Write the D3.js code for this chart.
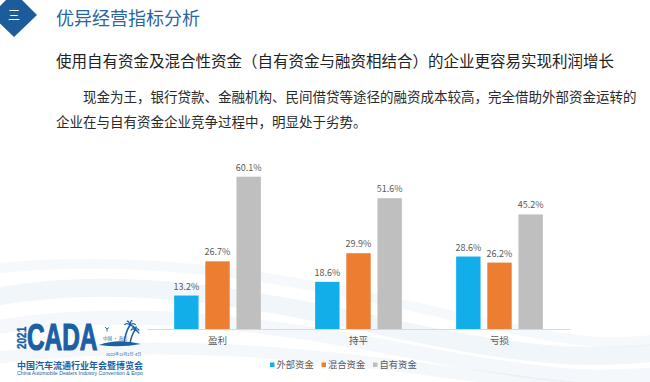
<!DOCTYPE html>
<html>
<head>
<meta charset="utf-8">
<script src="https://cdn.jsdelivr.net/npm/d3@7"></script>
<style>
  html, body { margin: 0; padding: 0; background: #fff; }
  svg { display: block; font-family: "Noto Sans CJK SC", "Noto Sans", sans-serif; }
</style>
</head>
<body>
<svg id="chart" width="650" height="382"></svg>
<script>
// ---- data ----
const categories = ["盈利", "持平", "亏损"];
const seriesNames = ["外部资金", "混合资金", "自有资金"];
const externalFunds = [13.2, 18.6, 28.6];
const mixedFunds = [26.7, 29.9, 26.2];
const ownFunds = [60.1, 51.6, 45.2];
const seriesColors = ["#12aeea", "#ed7d31", "#bfbfbf"];

const titleText = "优异经营指标分析";
const subtitleText = "使用自有资金及混合性资金（自有资金与融资相结合）的企业更容易实现利润增长";
const paraLine1 = "现金为王，银行贷款、金融机构、民间借贷等途径的融资成本较高，完全借助外部资金运转的";
const paraLine2 = "企业在与自有资金企业竞争过程中，明显处于劣势。";

const seriesValues = [externalFunds, mixedFunds, ownFunds];
const rows = categories.map((c, i) => ({
  category: c,
  values: seriesNames.map((s, j) => ({ series: s, value: seriesValues[j][i], color: seriesColors[j] }))
}));

const svg = d3.select("#chart");

// ---- background swooshes ----
const bg = svg.append("g");
const swooshes = [
  { d: "M-20,300 C120,270 260,300 400,330 S600,360 680,350", w: 18, o: 0.12 },
  { d: "M-20,330 C140,300 300,330 430,355 S610,380 680,372", w: 14, o: 0.10 },
  { d: "M-20,270 C150,250 300,280 450,315 S620,345 680,335", w: 10, o: 0.08 },
  { d: "M-20,360 C160,335 320,355 470,375 S630,392 680,388", w: 12, o: 0.09 }
];
swooshes.forEach(s => {
  bg.append("path").attr("d", s.d).attr("fill", "none")
    .attr("stroke", "#8fb4d6").attr("stroke-width", s.w).attr("opacity", s.o);
});

// ---- header ----
svg.append("path")
  .attr("d", "M14,-8 L37,15 L14,37 L-9,15 Z")
  .attr("fill", "#1d5c9b");
svg.append("text").attr("x", 14).attr("y", 20).attr("text-anchor", "middle")
  .attr("fill", "#fff").attr("font-size", 12).text("三");
svg.append("text").attr("x", 56).attr("y", 24.5)
  .attr("fill", "#2866a3").attr("font-size", 18).text(titleText);

svg.append("text").attr("x", 56).attr("y", 67)
  .attr("fill", "#222").attr("font-size", 15.5).text(subtitleText);
svg.append("text").attr("x", 83).attr("y", 101.5)
  .attr("fill", "#2a2a2a").attr("font-size", 13.5).text(paraLine1);
svg.append("text").attr("x", 56).attr("y", 126.5)
  .attr("fill", "#2a2a2a").attr("font-size", 13.5).text(paraLine2);

// ---- chart ----
const baseY = 329;
const x0 = d3.scaleBand().domain(categories).range([147, 570])
  .paddingInner(0.385).paddingOuter(0.1925);
const x1 = d3.scaleBand().domain(seriesNames).range([0, x0.bandwidth()])
  .paddingInner(0.217).paddingOuter(0);
const y = d3.scaleLinear().domain([0, 70]).range([baseY, baseY - 177.4]);

const groups = svg.append("g").selectAll("g").data(rows).join("g")
  .attr("transform", d => `translate(${x0(d.category)},0)`);

groups.selectAll("rect").data(d => d.values).join("rect")
  .attr("x", d => x1(d.series))
  .attr("y", d => y(d.value))
  .attr("width", x1.bandwidth())
  .attr("height", d => y(0) - y(d.value))
  .attr("fill", d => d.color);

groups.selectAll("text").data(d => d.values).join("text")
  .attr("x", d => x1(d.series) + x1.bandwidth() / 2)
  .attr("y", d => y(d.value) - 6)
  .attr("text-anchor", "middle")
  .attr("font-size", 9)
  .attr("fill", "#595959")
  .text(d => d3.format(".1f")(d.value) + "%");

const axis = svg.append("g").attr("transform", `translate(0,${baseY})`)
  .call(d3.axisBottom(x0).tickSize(0).tickPadding(8.5));
axis.select(".domain").attr("stroke", "#d9d9d9").attr("stroke-width", 1);
axis.selectAll("text").attr("font-size", 9.5).attr("fill", "#595959")
  .attr("font-family", "Noto Sans CJK SC, sans-serif");

// ---- legend ----
const legendX = [270, 321.5, 373];
const legend = svg.append("g").selectAll("g").data(seriesNames).join("g")
  .attr("transform", (d, i) => `translate(${legendX[i]},365)`);
legend.append("rect").attr("x", 0).attr("y", -2.5).attr("width", 4.5).attr("height", 4.5)
  .attr("fill", (d, i) => seriesColors[i]);
legend.append("text").attr("x", 6.5).attr("y", 3.4).attr("font-size", 9.3)
  .attr("fill", "#595959").text(d => d);

// ---- logo ----
const logo = svg.append("g");
const logoBlue = "#1b5fa6";
logo.append("text").attr("transform", "translate(25.5,349) rotate(-90) scale(0.8,1)")
  .attr("font-size", 12.5).attr("font-weight", "bold").attr("fill", logoBlue)
  .attr("stroke", logoBlue).attr("stroke-width", 0.4)
  .attr("font-family", "Liberation Sans, sans-serif").text("2021");
logo.append("text").attr("transform", "translate(27,349.5) scale(0.66,1)")
  .attr("font-size", 37).attr("font-weight", "bold").attr("fill", logoBlue)
  .attr("stroke", logoBlue).attr("stroke-width", 1.2)
  .attr("font-family", "Liberation Sans, sans-serif").text("CADA");
// island + palms
logo.append("path").attr("d", "M99,345 Q118,338 141,344 Q120,348 99,345 Z").attr("fill", logoBlue);
logo.append("path").attr("d", "M124,344 Q125,333 130,325").attr("stroke", logoBlue).attr("stroke-width", 1.6).attr("fill", "none");
logo.append("path").attr("d", "M130,344 Q131,336 135,330").attr("stroke", logoBlue).attr("stroke-width", 1.4).attr("fill", "none");
[[130, 325, 6], [135, 330, 4.5]].forEach(([cx, cy, r]) => {
  [-160, -120, -70, -20, 20].forEach(a => {
    const rad = a * Math.PI / 180;
    logo.append("path")
      .attr("d", `M${cx},${cy} Q${cx + Math.cos(rad) * r * 0.6},${cy + Math.sin(rad) * r * 0.9 - 1} ${cx + Math.cos(rad) * r},${cy + Math.sin(rad) * r + 2}`)
      .attr("stroke", logoBlue).attr("stroke-width", 1.3).attr("fill", "none");
  });
});
logo.append("path").attr("d", "M105,327 l2,2 l2,-1.5 M107,329 l0,2.5").attr("stroke", logoBlue)
  .attr("stroke-width", 0.9).attr("fill", "none");
logo.append("text").attr("x", 103).attr("y", 340).attr("font-size", 4.5).attr("fill", logoBlue).text("中国 · 海口");
logo.append("text").attr("x", 106).attr("y", 355.5).attr("font-size", 4).attr("fill", logoBlue).text("2022年12月2日-4日");
logo.append("text").attr("x", 17).attr("y", 368.5).attr("font-size", 9).attr("font-weight", "bold")
  .attr("fill", logoBlue).attr("textLength", 126).attr("lengthAdjust", "spacingAndGlyphs")
  .text("中国汽车流通行业年会暨博览会");
logo.append("text").attr("x", 17).attr("y", 374.5).attr("font-size", 4.6)
  .attr("fill", logoBlue).attr("textLength", 126).attr("lengthAdjust", "spacingAndGlyphs")
  .attr("font-family", "Liberation Sans, sans-serif")
  .text("China Automobile Dealers Industry Convention & Expo");
</script>
</body>
</html>
